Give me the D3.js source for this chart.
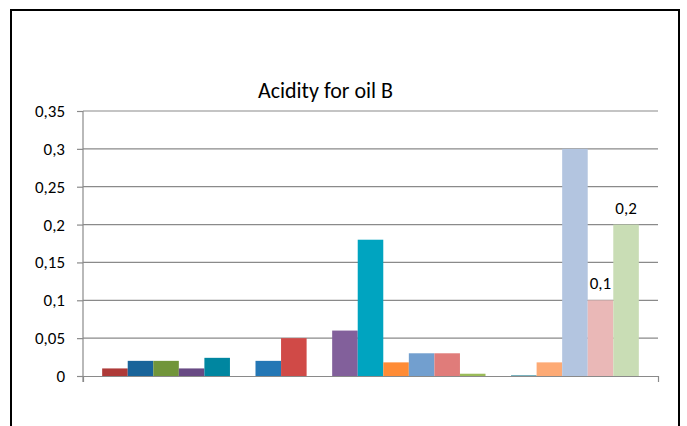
<!DOCTYPE html>
<html>
<head>
<meta charset="utf-8">
<script src="https://cdn.jsdelivr.net/npm/d3@7"></script>
<style>
  html, body { margin: 0; padding: 0; background: #fff; }
  svg { display: block; }
  text { font-family: Carlito, Lato, "Open Sans", sans-serif; fill: #000; }
</style>
</head>
<body>
<svg id="chart" width="687" height="426"></svg>
<script>
// One category, twenty-one series (blank entries are series with no value)
const categories = ["Oil B"];
const seriesValues = [0.01, 0.02, 0.02, 0.01, 0.024, null, 0.02, 0.05, null, 0.06, 0.18,
                      0.018, 0.03, 0.03, 0.003, null, 0.001, 0.018, 0.3, 0.1, 0.2];
const seriesColors = ["#AE3A38", "#19649A", "#71953A", "#684A84", "#0086A0", "#D8722B",
                      "#2477B5", "#D04A47", "#8DB04B", "#82609B", "#00A4C0", "#FF8C36",
                      "#729FCF", "#E07C7A", "#9BBB59", "#A18CBF", "#4E9AAA", "#FDAA75",
                      "#B3C5E0", "#EAB8B7", "#C9DDB5"];
const labelledSeries = [19, 20];
const yTicks = [0, 0.05, 0.1, 0.15, 0.2, 0.25, 0.3, 0.35];
const chartTitle = "Acidity for oil B";

const svg = d3.select("#chart");
const plotLeft = 83, plotRight = 658, plotTop = 111, plotBottom = 376;
const gridColor = "#8A8A8A";
const labelSize = "17px";

// Comma as decimal separator
const locale = d3.formatLocale({ decimal: ",", thousands: ".", grouping: [3], currency: ["", ""] });
const fmt = locale.format("~g");

// Outer frame
svg.append("rect")
  .attr("x", 11).attr("y", 10)
  .attr("width", 668).attr("height", 440)
  .attr("fill", "none").attr("stroke", "#000").attr("stroke-width", 2);

// Scales
const seriesIdx = d3.range(seriesValues.length);
const x0 = d3.scaleBand().domain(categories).range([plotLeft, plotRight])
  .paddingInner(0).paddingOuter(0.75 / seriesIdx.length);
const x1 = d3.scaleBand().domain(seriesIdx).range([0, x0.bandwidth()]).padding(0);
const y = d3.scaleLinear().domain([0, 0.35]).range([plotBottom, plotTop]);

// Horizontal gridlines
svg.append("g")
  .selectAll("line")
  .data(yTicks.filter(d => d > 0))
  .join("line")
  .attr("x1", plotLeft).attr("x2", plotRight)
  .attr("y1", d => y(d)).attr("y2", d => y(d))
  .attr("stroke", gridColor).attr("stroke-width", 1.2);

// Bars
const group = svg.append("g")
  .attr("transform", `translate(${x0(categories[0])},0)`);
group.selectAll("rect")
  .data(seriesIdx.filter(i => seriesValues[i] != null))
  .join("rect")
  .attr("x", i => x1(i))
  .attr("width", x1.bandwidth())
  .attr("y", i => y(seriesValues[i]))
  .attr("height", i => y(0) - y(seriesValues[i]))
  .attr("fill", i => seriesColors[i]);

// Data labels
group.selectAll("text.value")
  .data(labelledSeries)
  .join("text")
  .attr("class", "value")
  .attr("x", i => x1(i) + x1.bandwidth() / 2)
  .attr("y", i => y(seriesValues[i]) - 11)
  .attr("text-anchor", "middle")
  .style("font-size", labelSize)
  .text(i => fmt(seriesValues[i]));

// Y axis
const yAxis = svg.append("g")
  .attr("transform", `translate(${plotLeft},0)`)
  .call(d3.axisLeft(y).tickValues(yTicks).tickFormat(fmt).tickSize(6).tickSizeOuter(0).tickPadding(12));
yAxis.select(".domain").attr("stroke", gridColor).attr("stroke-width", 1.2)
  .attr("d", `M0,${plotTop}V${plotBottom + 6}`);
yAxis.selectAll(".tick line").attr("stroke", gridColor).attr("stroke-width", 1.2);
yAxis.selectAll(".tick text").style("font-size", labelSize).attr("fill", "#000")
  .style("font-family", "Carlito, Lato, 'Open Sans', sans-serif");

// X axis with tick marks at the category boundaries
const xEdge = d3.scaleLinear().domain([0, 1]).range([plotLeft, plotRight]);
const xAxis = svg.append("g")
  .attr("transform", `translate(0,${plotBottom})`)
  .call(d3.axisBottom(xEdge).tickValues([0, 1]).tickFormat("").tickSize(6).tickSizeOuter(0));
xAxis.select(".domain").attr("stroke", gridColor).attr("stroke-width", 1.2);
xAxis.selectAll(".tick line").attr("stroke", gridColor).attr("stroke-width", 1.2);

// Title
svg.append("text")
  .attr("x", 325.5).attr("y", 98)
  .attr("text-anchor", "middle")
  .style("font-size", "22px")
  .text(chartTitle);
</script>
</body>
</html>
